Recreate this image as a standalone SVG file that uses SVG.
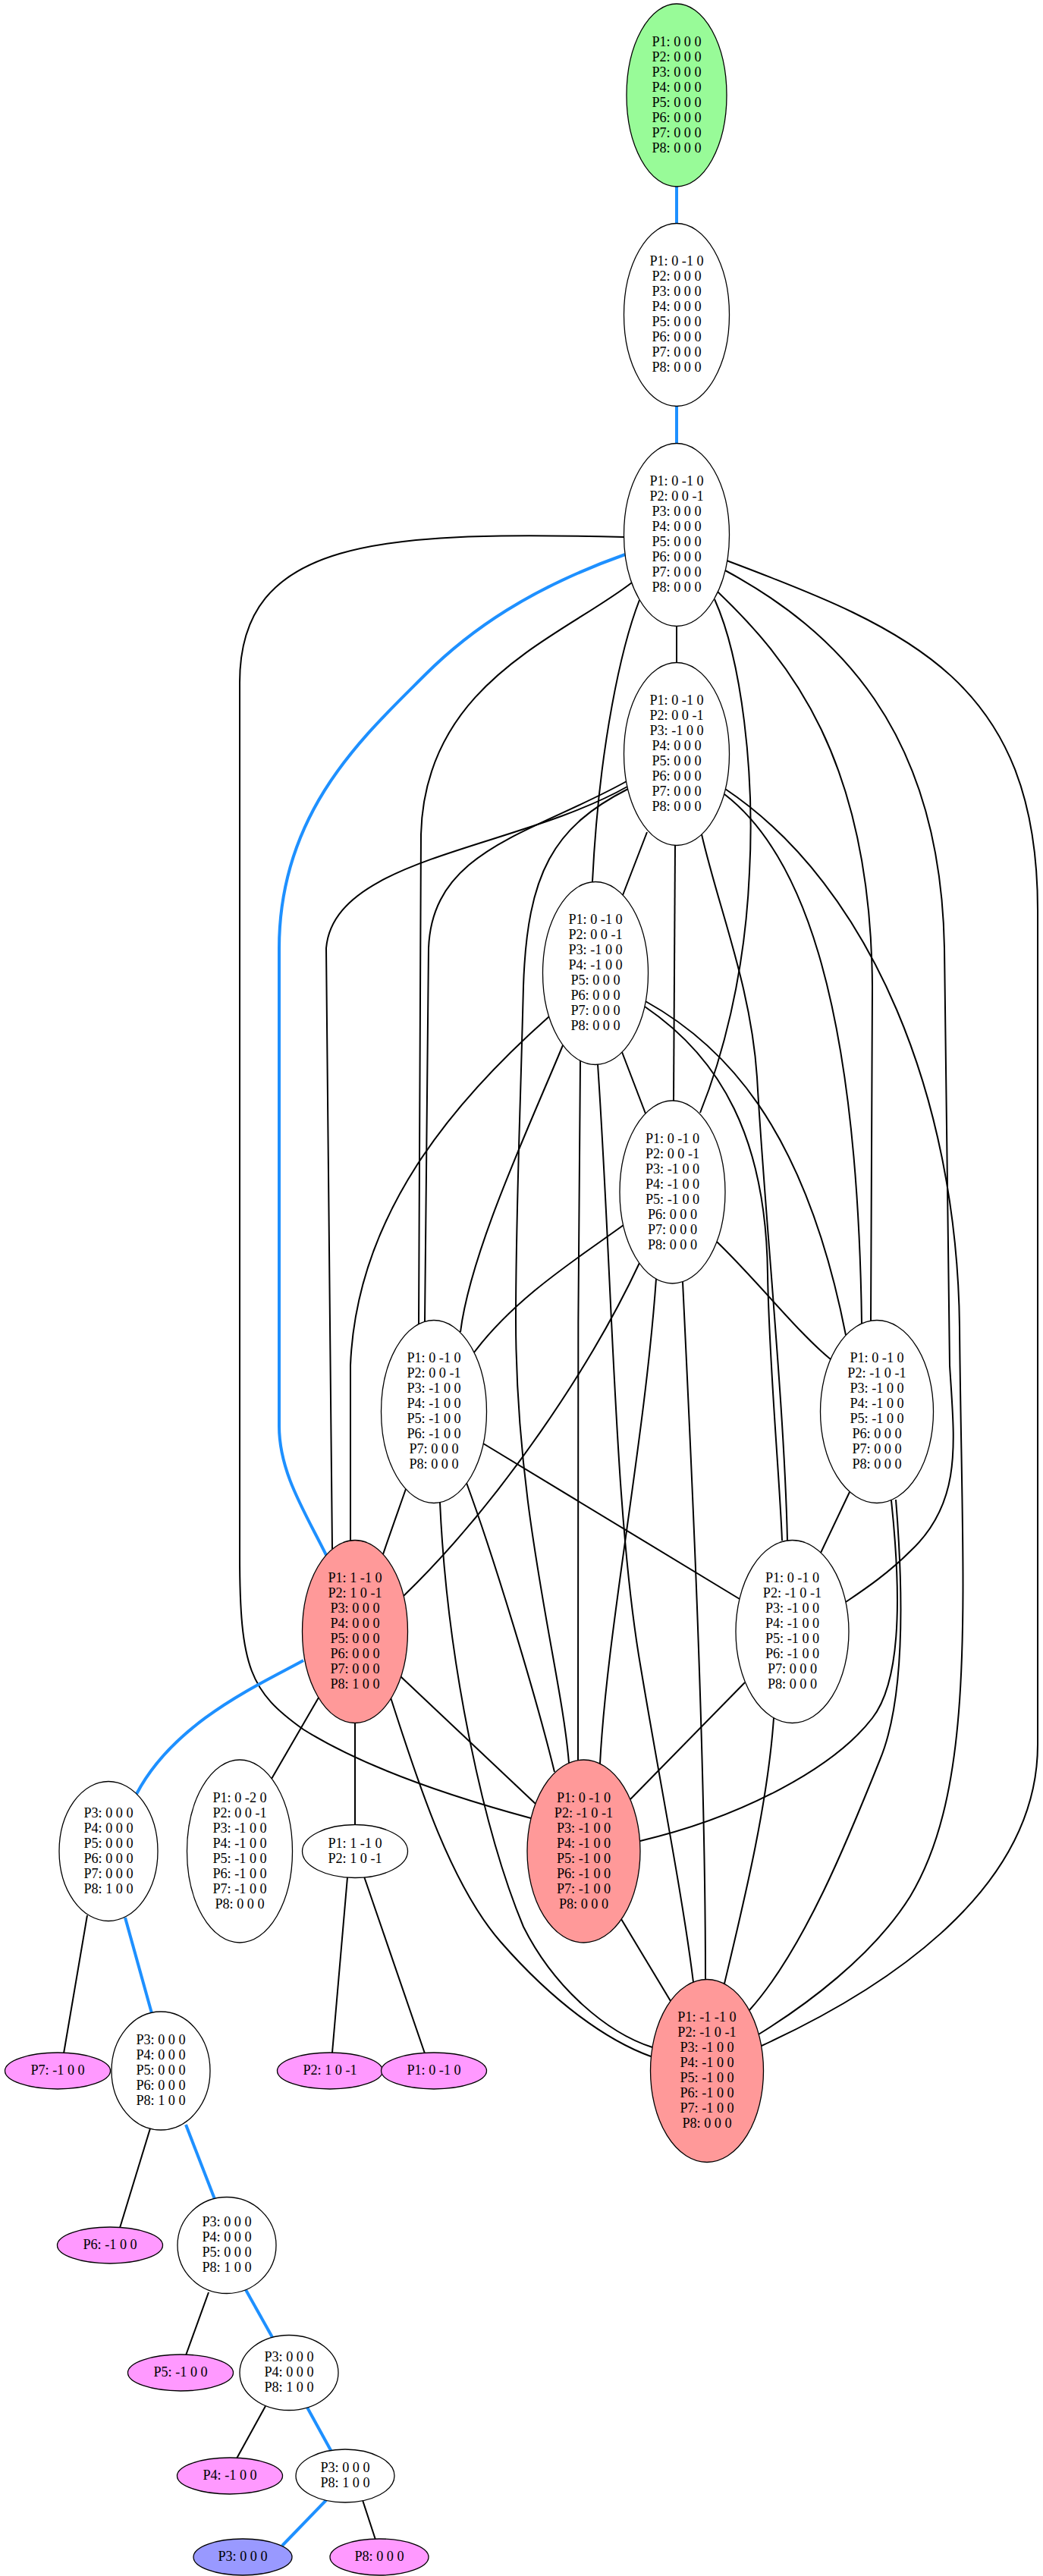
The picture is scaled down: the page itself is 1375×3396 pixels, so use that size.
<svg xmlns="http://www.w3.org/2000/svg" width="1375" height="3396" viewBox="0 0 1375 3396">
<style>
  .n ellipse { fill: #ffffff; stroke: #000000; stroke-width: 1.3; }
  .start ellipse { fill: #98fb98; }
  .hot ellipse { fill: #ff9999; }
  .leaf ellipse { fill: #ff99ff; }
  .goal ellipse { fill: #9999ff; }
  text { font-family: "Liberation Serif", "Times New Roman", serif; font-size: 18.2px; text-anchor: middle; fill: #000000; }
  .e path { fill: none; stroke: #000000; stroke-width: 2; }
  .e path.b { stroke: #1e90ff; stroke-width: 4; }
</style>
<rect width="1375" height="3396" fill="#ffffff"/>

<g id="edges" class="e">
  <!-- highlighted path -->
  <path class="b" d="M892,246 L892,294"/>
  <path class="b" d="M892,536 L892,584"/>
  <path class="b" d="M824,731 C700,775 620,830 560,890 C480,970 368,1070 368,1250 L368,1880 C368,1940 400,1990 430,2050"/>
  <!-- from n2 -->
  <path d="M892,826 L892,873"/>
  <path d="M843,791 C820,850 790,980 781,1162"/>
  <path d="M942,790 C978,870 995,1020 988,1150 C982,1290 950,1400 923,1467"/>
  <path d="M833,768 C740,840 560,900 555,1100 L552,1745"/>
  <path d="M946,780 C1040,870 1148,1000 1150,1300 L1148,1741"/>
  <path d="M956,752 C1100,830 1240,960 1245,1250 L1252,1800 C1258,1900 1270,1980 1200,2045 C1170,2075 1140,2095 1115,2112"/>
  <path d="M823,708 C500,700 316,710 316,900 L316,2050 C316,2200 330,2230 400,2280 C480,2330 600,2370 700,2397"/>
  <path d="M958,739 C1200,830 1368,900 1368,1200 L1368,2300 C1368,2500 1150,2630 1004,2697"/>
  <!-- from n3 -->
  <path d="M853,1097 L821,1180"/>
  <path d="M890,1115 L888,1451"/>
  <path d="M826,1030 C700,1100 570,1120 565,1250 L560,1742"/>
  <path d="M827,1037 C680,1120 440,1130 430,1250 L438,2042"/>
  <path d="M828,1040 C730,1090 695,1150 690,1300 C685,1500 680,1600 680,1740 C680,2000 740,2200 750,2324"/>
  <path d="M955,1047 C1050,1120 1130,1300 1136,1745"/>
  <path d="M956,1040 C1150,1170 1262,1450 1265,1750 C1268,2100 1290,2350 1200,2500 C1150,2580 1060,2645 1000,2682"/>
  <path d="M925,1100 C948,1200 990,1300 998,1420 C1008,1600 1034,1850 1038,2031"/>
  <!-- from n4 -->
  <path d="M820,1387 L851,1468"/>
  <path d="M742,1378 C700,1480 620,1650 607,1756"/>
  <path d="M851,1320 C950,1375 1060,1480 1115,1760"/>
  <path d="M850,1327 C950,1395 1010,1500 1012,1680 C1014,1800 1028,1950 1031,2031"/>
  <path d="M724,1340 C600,1450 470,1600 462,1800 L462,2031"/>
  <path d="M765,1398 C762,1700 760,2100 762,2321"/>
  <path d="M788,1403 C808,1700 810,2000 845,2200 C870,2350 900,2500 914,2613"/>
  <!-- from n5 -->
  <path d="M822,1615 C760,1660 680,1710 625,1783"/>
  <path d="M945,1637 C1000,1690 1050,1755 1095,1792"/>
  <path d="M843,1665 C780,1800 660,1980 532,2104"/>
  <path d="M865,1686 C850,1900 800,2150 791,2325"/>
  <path d="M900,1690 C910,1900 930,2300 930,2609"/>
  <!-- from n6 -->
  <path d="M535,1963 C522,2000 512,2028 505,2049"/>
  <path d="M637,1903 L975,2108"/>
  <path d="M615,1955 C650,2050 705,2230 731,2336"/>
  <path d="M580,1981 C590,2200 640,2420 690,2540 C730,2620 800,2680 860,2699"/>
  <!-- from n7 -->
  <path d="M1120,1967 L1082,2047"/>
  <path d="M1175,1978 C1190,2120 1185,2220 1150,2265 C1100,2330 980,2395 844,2427"/>
  <path d="M1181,1977 C1195,2150 1185,2260 1160,2320 C1120,2420 1060,2570 988,2650"/>
  <!-- from n8 -->
  <path d="M528,2210 L706,2378"/>
  <path d="M515,2238 C545,2330 590,2480 660,2560 C730,2640 800,2690 858,2711"/>
  <path d="M468,2272 L468,2405"/>
  <path d="M420,2238 L358,2345"/>
  <path class="b" d="M400,2189 C340,2222 230,2270 180,2365"/>
  <!-- from n9, n10 -->
  <path d="M982,2218 L831,2372"/>
  <path d="M1020,2265 C1012,2380 980,2510 955,2615"/>
  <path d="M819,2530 L884,2638"/>
  <!-- lower chain -->
  <path d="M458,2475 L438,2706"/>
  <path d="M480,2474 L560,2707"/>
  <path d="M115,2525 L84,2707"/>
  <path class="b" d="M165,2528 L200,2654"/>
  <path d="M198,2806 L158,2937"/>
  <path class="b" d="M245,2801 L283,2899"/>
  <path d="M275,3022 L245,3105"/>
  <path class="b" d="M323,3017 L360,3083"/>
  <path d="M350,3172 L312,3241"/>
  <path class="b" d="M404,3172 L437,3232"/>
  <path d="M478,3296 L495,3348"/>
  <path class="b" d="M430,3296 L372,3356"/>
</g>

<g id="n0" class="n start">
  <ellipse cx="892" cy="125.5" rx="66" ry="120.5"/>
  <text x="892" y="60.7"><tspan x="892">P1: 0 0 0</tspan><tspan x="892" dy="20">P2: 0 0 0</tspan><tspan x="892" dy="20">P3: 0 0 0</tspan><tspan x="892" dy="20">P4: 0 0 0</tspan><tspan x="892" dy="20">P5: 0 0 0</tspan><tspan x="892" dy="20">P6: 0 0 0</tspan><tspan x="892" dy="20">P7: 0 0 0</tspan><tspan x="892" dy="20">P8: 0 0 0</tspan></text>
</g>
<g id="n1" class="n">
  <ellipse cx="892" cy="415" rx="69.5" ry="120.5"/>
  <text x="892" y="350.2"><tspan x="892">P1: 0 -1 0</tspan><tspan x="892" dy="20">P2: 0 0 0</tspan><tspan x="892" dy="20">P3: 0 0 0</tspan><tspan x="892" dy="20">P4: 0 0 0</tspan><tspan x="892" dy="20">P5: 0 0 0</tspan><tspan x="892" dy="20">P6: 0 0 0</tspan><tspan x="892" dy="20">P7: 0 0 0</tspan><tspan x="892" dy="20">P8: 0 0 0</tspan></text>
</g>
<g id="n2" class="n">
  <ellipse cx="892" cy="705" rx="69.5" ry="120.5"/>
  <text x="892" y="640.2"><tspan x="892">P1: 0 -1 0</tspan><tspan x="892" dy="20">P2: 0 0 -1</tspan><tspan x="892" dy="20">P3: 0 0 0</tspan><tspan x="892" dy="20">P4: 0 0 0</tspan><tspan x="892" dy="20">P5: 0 0 0</tspan><tspan x="892" dy="20">P6: 0 0 0</tspan><tspan x="892" dy="20">P7: 0 0 0</tspan><tspan x="892" dy="20">P8: 0 0 0</tspan></text>
</g>
<g id="n3" class="n">
  <ellipse cx="892" cy="994" rx="69.5" ry="120.5"/>
  <text x="892" y="929.2"><tspan x="892">P1: 0 -1 0</tspan><tspan x="892" dy="20">P2: 0 0 -1</tspan><tspan x="892" dy="20">P3: -1 0 0</tspan><tspan x="892" dy="20">P4: 0 0 0</tspan><tspan x="892" dy="20">P5: 0 0 0</tspan><tspan x="892" dy="20">P6: 0 0 0</tspan><tspan x="892" dy="20">P7: 0 0 0</tspan><tspan x="892" dy="20">P8: 0 0 0</tspan></text>
</g>
<g id="n4" class="n">
  <ellipse cx="785" cy="1283" rx="69.5" ry="120.5"/>
  <text x="785" y="1218.2"><tspan x="785">P1: 0 -1 0</tspan><tspan x="785" dy="20">P2: 0 0 -1</tspan><tspan x="785" dy="20">P3: -1 0 0</tspan><tspan x="785" dy="20">P4: -1 0 0</tspan><tspan x="785" dy="20">P5: 0 0 0</tspan><tspan x="785" dy="20">P6: 0 0 0</tspan><tspan x="785" dy="20">P7: 0 0 0</tspan><tspan x="785" dy="20">P8: 0 0 0</tspan></text>
</g>
<g id="n5" class="n">
  <ellipse cx="886.5" cy="1571.5" rx="69.5" ry="120.5"/>
  <text x="886.5" y="1506.7"><tspan x="886.5">P1: 0 -1 0</tspan><tspan x="886.5" dy="20">P2: 0 0 -1</tspan><tspan x="886.5" dy="20">P3: -1 0 0</tspan><tspan x="886.5" dy="20">P4: -1 0 0</tspan><tspan x="886.5" dy="20">P5: -1 0 0</tspan><tspan x="886.5" dy="20">P6: 0 0 0</tspan><tspan x="886.5" dy="20">P7: 0 0 0</tspan><tspan x="886.5" dy="20">P8: 0 0 0</tspan></text>
</g>
<g id="n6" class="n">
  <ellipse cx="572" cy="1861" rx="69.5" ry="120.5"/>
  <text x="572" y="1796.2"><tspan x="572">P1: 0 -1 0</tspan><tspan x="572" dy="20">P2: 0 0 -1</tspan><tspan x="572" dy="20">P3: -1 0 0</tspan><tspan x="572" dy="20">P4: -1 0 0</tspan><tspan x="572" dy="20">P5: -1 0 0</tspan><tspan x="572" dy="20">P6: -1 0 0</tspan><tspan x="572" dy="20">P7: 0 0 0</tspan><tspan x="572" dy="20">P8: 0 0 0</tspan></text>
</g>
<g id="n7" class="n">
  <ellipse cx="1156" cy="1861" rx="74.5" ry="120.5"/>
  <text x="1156" y="1796.2"><tspan x="1156">P1: 0 -1 0</tspan><tspan x="1156" dy="20">P2: -1 0 -1</tspan><tspan x="1156" dy="20">P3: -1 0 0</tspan><tspan x="1156" dy="20">P4: -1 0 0</tspan><tspan x="1156" dy="20">P5: -1 0 0</tspan><tspan x="1156" dy="20">P6: 0 0 0</tspan><tspan x="1156" dy="20">P7: 0 0 0</tspan><tspan x="1156" dy="20">P8: 0 0 0</tspan></text>
</g>
<g id="n8" class="n hot">
  <ellipse cx="468" cy="2151" rx="69.5" ry="120.5"/>
  <text x="468" y="2086.2"><tspan x="468">P1: 1 -1 0</tspan><tspan x="468" dy="20">P2: 1 0 -1</tspan><tspan x="468" dy="20">P3: 0 0 0</tspan><tspan x="468" dy="20">P4: 0 0 0</tspan><tspan x="468" dy="20">P5: 0 0 0</tspan><tspan x="468" dy="20">P6: 0 0 0</tspan><tspan x="468" dy="20">P7: 0 0 0</tspan><tspan x="468" dy="20">P8: 1 0 0</tspan></text>
</g>
<g id="n9" class="n">
  <ellipse cx="1044.5" cy="2151" rx="74.5" ry="120.5"/>
  <text x="1044.5" y="2086.2"><tspan x="1044.5">P1: 0 -1 0</tspan><tspan x="1044.5" dy="20">P2: -1 0 -1</tspan><tspan x="1044.5" dy="20">P3: -1 0 0</tspan><tspan x="1044.5" dy="20">P4: -1 0 0</tspan><tspan x="1044.5" dy="20">P5: -1 0 0</tspan><tspan x="1044.5" dy="20">P6: -1 0 0</tspan><tspan x="1044.5" dy="20">P7: 0 0 0</tspan><tspan x="1044.5" dy="20">P8: 0 0 0</tspan></text>
</g>
<g id="n10" class="n hot">
  <ellipse cx="769.5" cy="2440.5" rx="74.5" ry="120.5"/>
  <text x="769.5" y="2375.7"><tspan x="769.5">P1: 0 -1 0</tspan><tspan x="769.5" dy="20">P2: -1 0 -1</tspan><tspan x="769.5" dy="20">P3: -1 0 0</tspan><tspan x="769.5" dy="20">P4: -1 0 0</tspan><tspan x="769.5" dy="20">P5: -1 0 0</tspan><tspan x="769.5" dy="20">P6: -1 0 0</tspan><tspan x="769.5" dy="20">P7: -1 0 0</tspan><tspan x="769.5" dy="20">P8: 0 0 0</tspan></text>
</g>
<g id="n11" class="n hot">
  <ellipse cx="932" cy="2730" rx="74.5" ry="120.5"/>
  <text x="932" y="2665.2"><tspan x="932">P1: -1 -1 0</tspan><tspan x="932" dy="20">P2: -1 0 -1</tspan><tspan x="932" dy="20">P3: -1 0 0</tspan><tspan x="932" dy="20">P4: -1 0 0</tspan><tspan x="932" dy="20">P5: -1 0 0</tspan><tspan x="932" dy="20">P6: -1 0 0</tspan><tspan x="932" dy="20">P7: -1 0 0</tspan><tspan x="932" dy="20">P8: 0 0 0</tspan></text>
</g>
<g id="n12" class="n">
  <ellipse cx="316" cy="2440.5" rx="69.5" ry="120.5"/>
  <text x="316" y="2375.7"><tspan x="316">P1: 0 -2 0</tspan><tspan x="316" dy="20">P2: 0 0 -1</tspan><tspan x="316" dy="20">P3: -1 0 0</tspan><tspan x="316" dy="20">P4: -1 0 0</tspan><tspan x="316" dy="20">P5: -1 0 0</tspan><tspan x="316" dy="20">P6: -1 0 0</tspan><tspan x="316" dy="20">P7: -1 0 0</tspan><tspan x="316" dy="20">P8: 0 0 0</tspan></text>
</g>
<g id="n13" class="n">
  <ellipse cx="143" cy="2440.5" rx="65" ry="92"/>
  <text x="143" y="2395.7"><tspan x="143">P3: 0 0 0</tspan><tspan x="143" dy="20">P4: 0 0 0</tspan><tspan x="143" dy="20">P5: 0 0 0</tspan><tspan x="143" dy="20">P6: 0 0 0</tspan><tspan x="143" dy="20">P7: 0 0 0</tspan><tspan x="143" dy="20">P8: 1 0 0</tspan></text>
</g>
<g id="n14" class="n">
  <ellipse cx="468" cy="2440.5" rx="69.5" ry="35"/>
  <text x="468" y="2435.7"><tspan x="468">P1: 1 -1 0</tspan><tspan x="468" dy="20">P2: 1 0 -1</tspan></text>
</g>
<g id="n15" class="n leaf">
  <ellipse cx="76" cy="2730" rx="69.5" ry="24"/>
  <text x="76" y="2735.2">P7: -1 0 0</text>
</g>
<g id="n16" class="n">
  <ellipse cx="212" cy="2730" rx="65" ry="78"/>
  <text x="212" y="2695.2"><tspan x="212">P3: 0 0 0</tspan><tspan x="212" dy="20">P4: 0 0 0</tspan><tspan x="212" dy="20">P5: 0 0 0</tspan><tspan x="212" dy="20">P6: 0 0 0</tspan><tspan x="212" dy="20">P8: 1 0 0</tspan></text>
</g>
<g id="n17" class="n leaf">
  <ellipse cx="435" cy="2730" rx="69.5" ry="24"/>
  <text x="435" y="2735.2">P2: 1 0 -1</text>
</g>
<g id="n18" class="n leaf">
  <ellipse cx="572" cy="2730" rx="69.5" ry="24"/>
  <text x="572" y="2735.2">P1: 0 -1 0</text>
</g>
<g id="n19" class="n leaf">
  <ellipse cx="145" cy="2960" rx="69.5" ry="24"/>
  <text x="145" y="2965.2">P6: -1 0 0</text>
</g>
<g id="n20" class="n">
  <ellipse cx="299" cy="2960" rx="65" ry="63.5"/>
  <text x="299" y="2935.2"><tspan x="299">P3: 0 0 0</tspan><tspan x="299" dy="20">P4: 0 0 0</tspan><tspan x="299" dy="20">P5: 0 0 0</tspan><tspan x="299" dy="20">P8: 1 0 0</tspan></text>
</g>
<g id="n21" class="n leaf">
  <ellipse cx="238" cy="3128" rx="69.5" ry="24"/>
  <text x="238" y="3133.2">P5: -1 0 0</text>
</g>
<g id="n22" class="n">
  <ellipse cx="381" cy="3128" rx="65" ry="49.5"/>
  <text x="381" y="3113.2"><tspan x="381">P3: 0 0 0</tspan><tspan x="381" dy="20">P4: 0 0 0</tspan><tspan x="381" dy="20">P8: 1 0 0</tspan></text>
</g>
<g id="n23" class="n leaf">
  <ellipse cx="303" cy="3264" rx="69.5" ry="24"/>
  <text x="303" y="3269.2">P4: -1 0 0</text>
</g>
<g id="n24" class="n">
  <ellipse cx="455" cy="3264" rx="65" ry="35"/>
  <text x="455" y="3259.2"><tspan x="455">P3: 0 0 0</tspan><tspan x="455" dy="20">P8: 1 0 0</tspan></text>
</g>
<g id="n25" class="n goal">
  <ellipse cx="320" cy="3371" rx="65" ry="24"/>
  <text x="320" y="3376.2">P3: 0 0 0</text>
</g>
<g id="n26" class="n leaf">
  <ellipse cx="500" cy="3371" rx="65" ry="24"/>
  <text x="500" y="3376.2">P8: 0 0 0</text>
</g>
</svg>
